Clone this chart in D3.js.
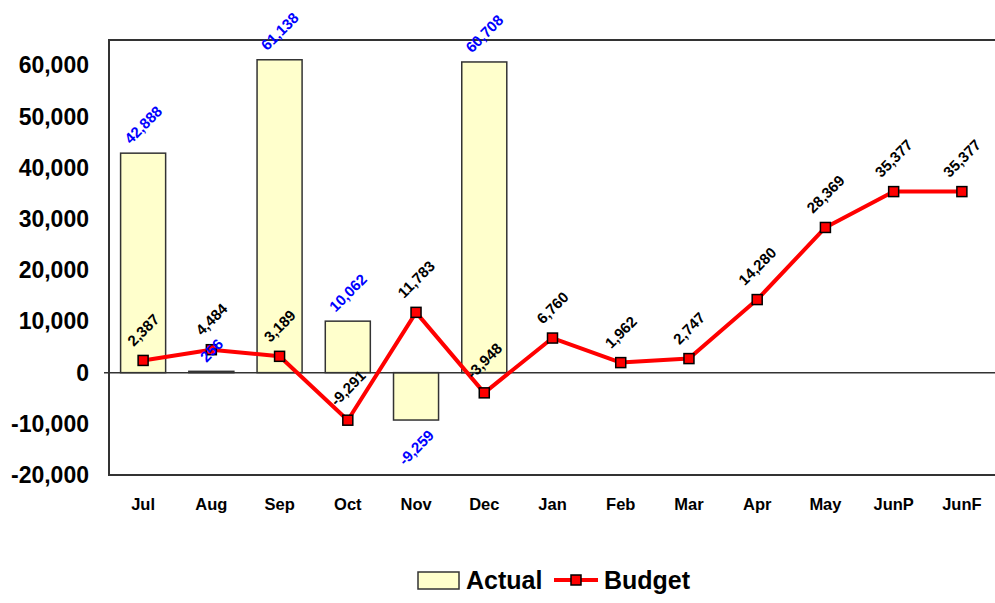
<!DOCTYPE html>
<html>
<head>
<meta charset="utf-8">
<script src="https://cdn.jsdelivr.net/npm/d3@7"></script>
<style>
  body { margin: 0; background: #fff; }
  svg { display: block; font-family: Arial, 'Liberation Sans', sans-serif; font-weight: bold; }
</style>
</head>
<body>
<div id="chart"></div>
<script>
// data
var months = ['Jul', 'Aug', 'Sep', 'Oct', 'Nov', 'Dec', 'Jan', 'Feb', 'Mar', 'Apr', 'May', 'JunP', 'JunF'];
var actual = [42888, 256, 61138, 10062, -9259, 60708, null, null, null, null, null, null, null];
var budget = [2387, 4484, 3189, -9291, 11783, -3948, 6760, 1962, 2747, 14280, 28369, 35377, 35377];
var yTicks = [-20000, -10000, 0, 10000, 20000, 30000, 40000, 50000, 60000];

var width = 995, height = 603;
var plot = { left: 109, right: 996, top: 40, bottom: 475 };
// plain hyphen for negatives, like the original
var fmt = d3.formatLocale({ decimal: '.', thousands: ',', grouping: [3], currency: ['', ''], minus: '-' }).format(',');

var rows = months.map(function(m, i) {
  return { month: m, actual: actual[i], budget: budget[i] };
});

var svg = d3.select('#chart').append('svg')
  .attr('width', width)
  .attr('height', height);

// scales
var x = d3.scaleBand()
  .domain(months)
  .range([plot.left, plot.right])
  .paddingInner(0.34)
  .paddingOuter(0.17);

var y = d3.scaleLinear()
  .domain([-20000, 65000])
  .range([plot.bottom, plot.top]);

// plot frame
svg.append('rect')
  .attr('x', plot.left)
  .attr('y', plot.top)
  .attr('width', plot.right - plot.left)
  .attr('height', plot.bottom - plot.top)
  .attr('fill', 'none')
  .attr('stroke', '#333')
  .attr('stroke-width', 2);

// y axis labels
var yAxis = svg.append('g')
  .attr('transform', 'translate(' + plot.left + ',0)')
  .call(d3.axisLeft(y).tickValues(yTicks).tickFormat(fmt).tickSize(0).tickPadding(20));
yAxis.select('.domain').remove();
yAxis.selectAll('text')
  .attr('font-family', 'Arial, "Liberation Sans", sans-serif')
  .attr('font-weight', 'bold')
  .attr('font-size', 23)
  .attr('fill', '#000');

// category labels
var xAxis = svg.append('g')
  .attr('transform', 'translate(0,' + plot.bottom + ')')
  .call(d3.axisBottom(x).tickSize(0).tickPadding(23));
xAxis.select('.domain').remove();
xAxis.selectAll('text')
  .attr('font-family', 'Arial, "Liberation Sans", sans-serif')
  .attr('font-weight', 'bold')
  .attr('font-size', 16.5)
  .attr('fill', '#000');

// bars
var barRows = rows.filter(function(d) { return d.actual !== null; });
svg.append('g').selectAll('rect')
  .data(barRows)
  .enter()
  .append('rect')
  .attr('x', function(d) { return x(d.month); })
  .attr('width', x.bandwidth())
  .attr('y', function(d) { return y(Math.max(0, d.actual)); })
  .attr('height', function(d) { return Math.max(1, Math.abs(y(d.actual) - y(0))); })
  .attr('fill', '#FFFFCC')
  .attr('stroke', '#333')
  .attr('stroke-width', 1.5);

// zero line with small outer tick
svg.append('line')
  .attr('x1', plot.left - 5)
  .attr('x2', plot.right)
  .attr('y1', y(0))
  .attr('y2', y(0))
  .attr('stroke', '#333')
  .attr('stroke-width', 1.5);

// budget line
var cx = function(d) { return x(d.month) + x.bandwidth() / 2; };
var line = d3.line()
  .x(cx)
  .y(function(d) { return y(d.budget); });

svg.append('path')
  .datum(rows)
  .attr('d', line)
  .attr('fill', 'none')
  .attr('stroke', '#FF0000')
  .attr('stroke-width', 4)
  .attr('stroke-linejoin', 'round');

svg.append('g').selectAll('rect')
  .data(rows)
  .enter()
  .append('rect')
  .attr('x', function(d) { return cx(d) - 5; })
  .attr('y', function(d) { return y(d.budget) - 5; })
  .attr('width', 10)
  .attr('height', 10)
  .attr('fill', '#FF0000')
  .attr('stroke', '#000')
  .attr('stroke-width', 1.5);

// rotated labels: centre placed off the mark edge by half of the rotated box
function rotLabel(g, px, edgeY, dir, txt, color) {
  var t = g.append('text')
    .attr('text-anchor', 'middle')
    .attr('dominant-baseline', 'central')
    .attr('font-size', 15)
    .attr('fill', color)
    .text(txt);
  var w = t.node().getComputedTextLength();
  var half = (w + 15) / (2 * Math.SQRT2);
  var cy = edgeY + dir * (7 + half);
  t.attr('transform', 'translate(' + px + ',' + cy + ') rotate(-45)');
}

var labels = svg.append('g');
barRows.forEach(function(d) {
  var up = d.actual >= 0;
  rotLabel(labels, cx(d), y(d.actual), up ? -1 : 1, fmt(d.actual), '#0000FF');
});
rows.forEach(function(d) {
  rotLabel(labels, cx(d), y(d.budget) - 5, -1, fmt(d.budget), '#000');
});

// legend
var legend = svg.append('g');
legend.append('rect')
  .attr('x', 418).attr('y', 572)
  .attr('width', 41).attr('height', 17)
  .attr('fill', '#FFFFCC')
  .attr('stroke', '#333')
  .attr('stroke-width', 1.5);
legend.append('text')
  .attr('x', 466).attr('y', 589)
  .attr('font-size', 25)
  .text('Actual');
legend.append('line')
  .attr('x1', 554).attr('x2', 598)
  .attr('y1', 580).attr('y2', 580)
  .attr('stroke', '#FF0000')
  .attr('stroke-width', 4);
legend.append('rect')
  .attr('x', 571).attr('y', 575)
  .attr('width', 10).attr('height', 10)
  .attr('fill', '#FF0000')
  .attr('stroke', '#000')
  .attr('stroke-width', 1.5);
legend.append('text')
  .attr('x', 604).attr('y', 589)
  .attr('font-size', 25)
  .text('Budget');
</script>
</body>
</html>
